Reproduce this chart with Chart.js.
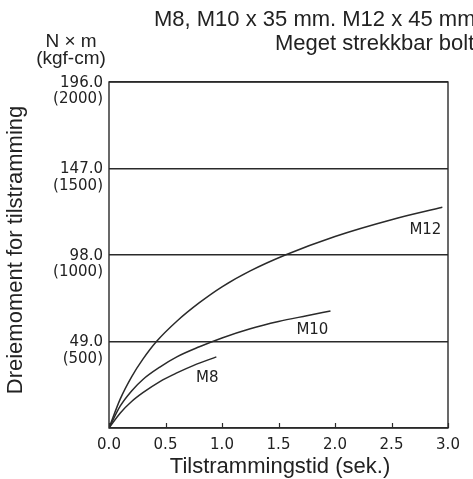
<!DOCTYPE html>
<html>
<head>
<meta charset="utf-8">
<script src="https://cdn.jsdelivr.net/npm/chart.js@4.4.1/dist/chart.umd.min.js"></script>
<style>
  body { margin: 0; background: #fff; }
  #wrap { width: 473px; height: 479px; position: relative; }
</style>
</head>
<body>
<div id="wrap"><canvas id="chart"></canvas></div>
<script>
// data
const m12Time = [0, 0.1, 0.2, 0.3, 0.42, 0.6, 0.8, 1.0, 1.25, 1.56, 2.0, 2.5, 2.95];
const m12Torque = [0, 16.5, 29, 39, 49, 60.5, 71, 80, 89, 98, 108.5, 118, 125];
const m10Time = [0, 0.1, 0.2, 0.3, 0.45, 0.6, 0.8, 1.0, 1.25, 1.5, 1.75, 1.96];
const m10Torque = [0, 12.5, 21, 27.5, 34.5, 40.3, 46, 51, 56.2, 60.3, 63.6, 66.3];
const m8Time = [0, 0.1, 0.2, 0.3, 0.45, 0.6, 0.75, 0.95];
const m8Torque = [0, 8.5, 15, 20, 26.3, 31.2, 35.5, 40.3];
const xTicks = [0, 0.5, 1.0, 1.5, 2.0, 2.5, 3.0];
const yTicksNm = [49.0, 98.0, 147.0, 196.0];
const yTicksKgf = [500, 1000, 1500, 2000];
const curveLabels = [
  { text: 'M12', t: 2.8, v: 112 },
  { text: 'M10', t: 1.8, v: 55.5 },
  { text: 'M8', t: 0.87, v: 28.3 }
];

function toPoints(xs, ys) {
  return xs.map((x, i) => ({ x: x, y: ys[i] }));
}

const ink = '#2a2a2a';
const tickFont = '"DejaVu Sans", sans-serif';
const textFont = '"Liberation Sans", Arial, sans-serif';

// frame, inward x ticks and free text
const decor = {
  id: 'decor',
  afterDraw(chart) {
    const ctx = chart.ctx;
    const a = chart.chartArea;
    const xs = chart.scales.x;
    const ys = chart.scales.y;
    ctx.save();
    ctx.strokeStyle = ink;
    ctx.lineWidth = 1.4;
    ctx.strokeRect(a.left, a.top, a.right - a.left, a.bottom - a.top);
    // little tick marks pointing up into the plot
    ctx.lineWidth = 1.2;
    xTicks.forEach(t => {
      const px = Math.round(xs.getPixelForValue(t)) + 0.5;
      ctx.beginPath();
      ctx.moveTo(px, a.bottom);
      ctx.lineTo(px, a.bottom - 5);
      ctx.stroke();
    });

    ctx.fillStyle = '#222';
    ctx.textBaseline = 'middle';
    ctx.font = '15px ' + tickFont;
    ctx.textAlign = 'center';
    curveLabels.forEach(l => {
      ctx.fillText(l.text, xs.getPixelForValue(l.t), ys.getPixelForValue(l.v));
    });

    ctx.font = '22px ' + textFont;
    ctx.textAlign = 'left';
    ctx.fillText('M8, M10 x 35 mm. M12 x 45 mm', 154, 20);
    ctx.fillText('Meget strekkbar bolt', 275, 44);

    ctx.font = '19px ' + textFont;
    ctx.textAlign = 'center';
    ctx.fillText('N \u00d7 m', 71, 42);
    ctx.fillText('(kgf-cm)', 71, 58.5);

    ctx.font = '22px ' + textFont;
    ctx.fillText('Tilstrammingstid (sek.)', 280, 467);
    ctx.translate(16, 250);
    ctx.rotate(-Math.PI / 2);
    ctx.fillText('Dreiemoment for tilstramming', 0, 0);
    ctx.restore();
  }
};

const lineStyle = {
  borderColor: ink,
  borderWidth: 1.5,
  pointRadius: 0,
  fill: false,
  cubicInterpolationMode: 'monotone'
};

new Chart(document.getElementById('chart'), {
  type: 'line',
  data: {
    datasets: [
      Object.assign({ label: 'M12', data: toPoints(m12Time, m12Torque) }, lineStyle),
      Object.assign({ label: 'M10', data: toPoints(m10Time, m10Torque) }, lineStyle),
      Object.assign({ label: 'M8', data: toPoints(m8Time, m8Torque) }, lineStyle)
    ]
  },
  options: {
    responsive: true,
    maintainAspectRatio: false,
    animation: false,
    layout: { padding: { left: 0, right: 25, top: 82, bottom: 0 } },
    plugins: { legend: { display: false }, tooltip: { enabled: false } },
    scales: {
      x: {
        type: 'linear',
        min: 0,
        max: 3,
        afterFit: s => { s.height = 51; },
        afterBuildTicks: s => { s.ticks = xTicks.map(v => ({ value: v })); },
        grid: { display: false },
        border: { display: false },
        ticks: {
          color: '#222',
          font: { family: tickFont, size: 15 },
          padding: 0,
          maxRotation: 0,
          callback: v => Number(v).toFixed(1)
        }
      },
      y: {
        min: 0,
        max: 196,
        afterFit: s => { s.width = 109; },
        afterBuildTicks: s => { s.ticks = [0].concat(yTicksNm).map(v => ({ value: v })); },
        grid: { color: ink, lineWidth: 1.4, drawTicks: false },
        border: { display: false },
        ticks: {
          color: '#222',
          font: { family: tickFont, size: 15, lineHeight: 1.1 },
          padding: 6,
          labelOffset: 9,
          callback: v => {
            const i = yTicksNm.indexOf(v);
            if (i < 0) return '';
            return [yTicksNm[i].toFixed(1), '(' + yTicksKgf[i] + ')'];
          }
        }
      }
    }
  },
  plugins: [decor]
});
</script>
</body>
</html>
